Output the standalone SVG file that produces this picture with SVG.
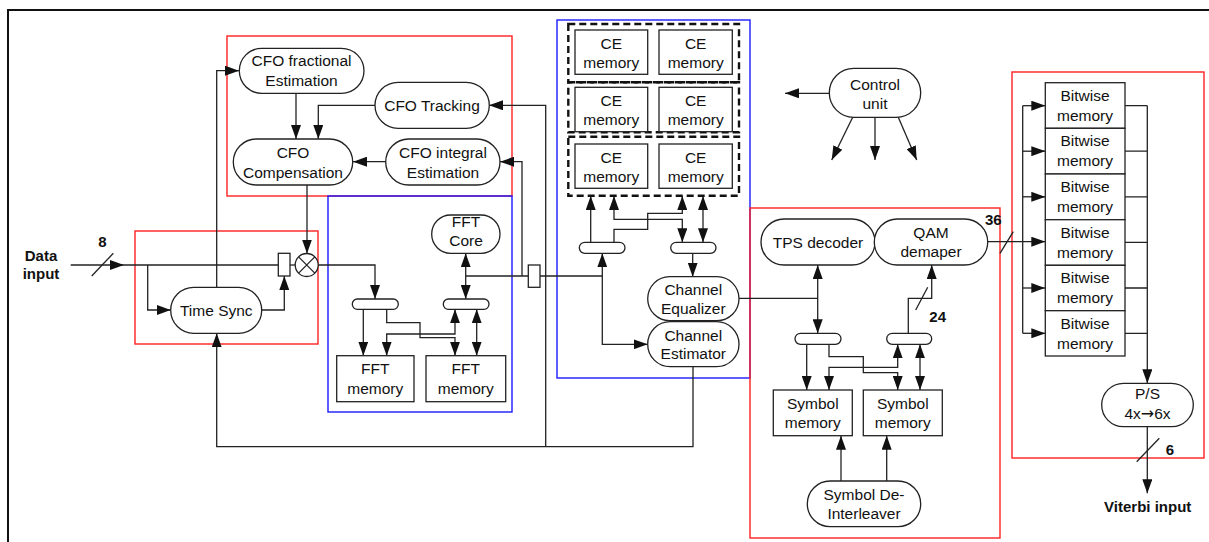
<svg xmlns="http://www.w3.org/2000/svg" width="1209" height="542" viewBox="0 0 1209 542">
  <style>
    .ln { fill: none; stroke: #222; stroke-width: 1.3; }
    .box { fill: #fff; stroke: #222; stroke-width: 1.3; }
    .red { fill: none; stroke: #ff2020; stroke-width: 1.4; }
    .blue { fill: none; stroke: #1a1aff; stroke-width: 1.4; }
    .dash { fill: none; stroke: #111; stroke-width: 2.4; stroke-dasharray: 7 4; }
    .t { font-family: "Liberation Sans", Arial, sans-serif; font-size: 15.5px; fill: #111; text-anchor: middle; }
    .b { font-family: "Liberation Sans", Arial, sans-serif; font-size: 15px; font-weight: bold; fill: #111; text-anchor: middle; }
    .sym { font-family: "DejaVu Sans", sans-serif; font-size: 16px; }
    .a { marker-end: url(#ah); }
    .aa { marker-start: url(#ah); marker-end: url(#ah); }
  </style>
  <defs>
    <marker id="ah" markerUnits="userSpaceOnUse" viewBox="0 0 14 10" markerWidth="14" markerHeight="10" refX="14" refY="5" orient="auto-start-reverse">
      <path d="M0,0 L14,5 L0,10 z" fill="#111"/>
    </marker>
  </defs>

  <rect width="1209" height="542" fill="#fff"/>
  <!-- outer frame -->
  <rect x="8" y="10" width="1215" height="545" fill="none" stroke="#111" stroke-width="2"/>

  <!-- block outlines -->
  <g id="regions">
    <rect class="red" x="227" y="36" width="285" height="160"/>
    <rect class="red" x="135" y="231" width="183" height="113"/>
    <rect class="blue" x="328" y="196" width="184" height="216"/>
    <rect class="blue" x="557" y="20" width="193" height="358"/>
    <rect class="red" x="750" y="208" width="250" height="330"/>
    <rect class="red" x="1012" y="72" width="192" height="386"/>
  </g>

  <!-- connectors -->
  <g id="connectors">
    <!-- data input -->
    <path class="ln a" d="M70.7,265 H124"/>
    <path class="ln" d="M124,265 H278.3"/>
    <path class="ln" d="M91.7,276 L113.3,253.3"/>
    <path class="ln a" d="M147.7,265 V310 H170.7"/>
    <path class="ln a" d="M262,310 H284.3 V276"/>
    <path class="ln" d="M290,265 H295.2"/>
    <path class="ln a" d="M307,185 V253.5"/>
    <path class="ln a" d="M318.2,265 H375 V299"/>
    <!-- time sync feedback -->
    <path class="ln a" d="M216.7,287 V70.7 H239"/>
    <path class="ln a" d="M693,366.7 V446.7 H216.7 V333.3"/>
    <path class="ln a" d="M545.7,446.7 V105.3 H489"/>
    <!-- CFO block -->
    <path class="ln a" d="M296,93.3 V139"/>
    <path class="ln a" d="M375,105.3 H318.3 V139"/>
    <path class="ln a" d="M386,161.7 H353"/>
    <path class="ln a" d="M522,276 V161.7 H500"/>
    <!-- FFT block -->
    <path class="ln" d="M465.7,276 H528.3"/>
    <path class="ln aa" d="M465.7,253.3 V299"/>
    <path class="ln a" d="M363.3,309.3 V355.7"/>
    <path class="ln a" d="M386.7,309.3 V322.7 H420 V337.7 H455 V355.7"/>
    <path class="ln aa" d="M455,309.3 V334 H386.7 V355.7"/>
    <path class="ln aa" d="M476.7,309.3 V355.7"/>
    <!-- channel estimation block -->
    <path class="ln a" d="M540,276 H602.3 V253.3"/>
    <path class="ln a" d="M602.3,276 V344.3 H647.7"/>
    <path class="ln a" d="M590.7,242.3 V196"/>
    <path class="ln a" d="M614,242.3 V229.3 H647.7 V213.3 H682.3 V196"/>
    <path class="ln aa" d="M614,196 V219.3 H682.3 V242.3"/>
    <path class="ln aa" d="M703,242.3 V196"/>
    <path class="ln a" d="M692.7,253.3 V276.7"/>
    <!-- demapping block -->
    <path class="ln" d="M739,298.3 H817.7"/>
    <path class="ln aa" d="M817.7,265 V333.3"/>
    <path class="ln a" d="M908.3,333.3 V298.3 H931.7 V265"/>
    <path class="ln" d="M915.7,310 L927.7,287.3"/>
    <path class="ln a" d="M806.7,344.3 V390"/>
    <path class="ln a" d="M829,344.3 V356.7 H863.3 V372.7 H897.7 V390"/>
    <path class="ln aa" d="M897.7,344.3 V367.3 H829 V390"/>
    <path class="ln aa" d="M920,344.3 V390"/>
    <path class="ln a" d="M841,481 V435.7"/>
    <path class="ln a" d="M886.7,481 V435.7"/>
    <!-- bitwise memories -->
    <path class="ln a" d="M987.7,241.7 H1045.3"/>
    <path class="ln" d="M1000,253.3 L1013.3,231.7"/>
    <path class="ln" d="M1022.7,105.7 V333.3"/>
    <path class="ln a" d="M1022.7,105.7 H1045.3"/>
    <path class="ln a" d="M1022.7,151.2 H1045.3"/>
    <path class="ln a" d="M1022.7,196.8 H1045.3"/>
    <path class="ln a" d="M1022.7,288 H1045.3"/>
    <path class="ln a" d="M1022.7,333.3 H1045.3"/>
    <path class="ln" d="M1125,105.7 H1147.3 M1125,151.2 H1147.3 M1125,196.8 H1147.3 M1125,242.3 H1147.3 M1125,288 H1147.3 M1125,333.3 H1147.3"/>
    <path class="ln a" d="M1147.3,105.7 V383.3"/>
    <path class="ln a" d="M1147.3,426.7 V493.3"/>
    <path class="ln" d="M1136.7,461.7 L1159.3,438.3"/>
    <!-- control unit -->
    <path class="ln a" d="M829,93.3 H785"/>
    <path class="ln a" d="M852.7,117.3 L831.7,160"/>
    <path class="ln a" d="M875,117.3 V160"/>
    <path class="ln a" d="M898.3,117.3 L916.7,160"/>
  </g>

  <!-- bus width labels -->
  <g id="labels">
    <text class="b" x="41" y="260.5">Data</text>
    <text class="b" x="41" y="278.5">input</text>
    <text class="b" x="102.3" y="247">8</text>
    <text class="b" x="937.7" y="321.5">24</text>
    <text class="b" x="993.3" y="224.8">36</text>
    <text class="b" x="1170" y="454.5">6</text>
    <text class="b" x="1147.7" y="511.5">Viterbi input</text>
  </g>

  <g id="sample-buffer">
    <rect class="box" x="278.3" y="253.3" width="11.7" height="22.7"/>
  </g>
  <g id="stage-buffer">
    <rect class="box" x="528.3" y="265" width="11.7" height="22.3"/>
  </g>
  <g id="mixer">
    <circle class="box" cx="306.7" cy="265" r="11.5"/>
    <path class="ln" d="M298.6,256.9 L314.8,273.1 M314.8,256.9 L298.6,273.1"/>
  </g>
  <g id="cfo-fractional">
    <rect class="box" x="239.3" y="48.3" width="124.7" height="45" rx="22.5"/>
    <text class="t" x="301.5" y="66.2">CFO fractional</text>
    <text class="t" x="301.5" y="86.2">Estimation</text>
  </g>
  <g id="cfo-tracking">
    <rect class="box" x="375" y="82.3" width="114.3" height="46" rx="23"/>
    <text class="t" x="432" y="110.8">CFO Tracking</text>
  </g>
  <g id="cfo-compensation">
    <rect class="box" x="233.3" y="139" width="119.4" height="46" rx="23"/>
    <text class="t" x="293" y="157.5">CFO</text>
    <text class="t" x="293" y="177.5">Compensation</text>
  </g>
  <g id="cfo-integral">
    <rect class="box" x="385.7" y="139" width="114.3" height="46" rx="23"/>
    <text class="t" x="443" y="157.5">CFO integral</text>
    <text class="t" x="443" y="177.5">Estimation</text>
  </g>
  <g id="time-sync">
    <rect class="box" x="170.7" y="287.3" width="91" height="46" rx="23"/>
    <text class="t" x="216.3" y="315.5">Time Sync</text>
  </g>
  <g id="fft-core">
    <rect class="box" x="431.7" y="215" width="68.3" height="38.3" rx="19"/>
    <text class="t" x="466" y="227">FFT</text>
    <text class="t" x="466" y="245.5">Core</text>
  </g>
  <g id="fft-mux-1"><rect class="box" x="352.3" y="299" width="46" height="10.3" rx="5"/></g>
  <g id="fft-mux-2"><rect class="box" x="443.3" y="299" width="45.7" height="10.3" rx="5"/></g>
  <g id="fft-memory-1">
    <rect class="box" x="336.7" y="355.7" width="77.3" height="46"/>
    <text class="t" x="375.3" y="374">FFT</text>
    <text class="t" x="375.3" y="394">memory</text>
  </g>
  <g id="fft-memory-2">
    <rect class="box" x="426" y="355.7" width="79.7" height="46"/>
    <text class="t" x="465.8" y="374">FFT</text>
    <text class="t" x="465.8" y="394">memory</text>
  </g>

  <g id="ce-bank-1">
    <rect class="dash" x="568.3" y="24" width="170.7" height="58.3"/>
    <rect class="box" x="575" y="30" width="72.7" height="44.3"/>
    <rect class="box" x="659" y="30" width="73.3" height="44.3"/>
    <text class="t" x="611.3" y="48.5">CE</text>
    <text class="t" x="611.3" y="67.5">memory</text>
    <text class="t" x="695.7" y="48.5">CE</text>
    <text class="t" x="695.7" y="67.5">memory</text>
  </g>
  <g id="ce-bank-2">
    <rect class="dash" x="568.3" y="82.3" width="170.7" height="50"/>
    <rect class="box" x="575" y="87.3" width="72.7" height="44.4"/>
    <rect class="box" x="659" y="87.3" width="73.3" height="44.4"/>
    <text class="t" x="611.3" y="105.8">CE</text>
    <text class="t" x="611.3" y="124.8">memory</text>
    <text class="t" x="695.7" y="105.8">CE</text>
    <text class="t" x="695.7" y="124.8">memory</text>
  </g>
  <g id="ce-bank-3">
    <rect class="dash" x="568.3" y="136.7" width="170.7" height="59"/>
    <rect class="box" x="575" y="144" width="72.7" height="44.3"/>
    <rect class="box" x="659" y="144" width="73.3" height="44.3"/>
    <text class="t" x="611.3" y="162.5">CE</text>
    <text class="t" x="611.3" y="181.5">memory</text>
    <text class="t" x="695.7" y="162.5">CE</text>
    <text class="t" x="695.7" y="181.5">memory</text>
  </g>
  <g id="ce-mux-1"><rect class="box" x="579.3" y="242.3" width="45.7" height="11" rx="5.5"/></g>
  <g id="ce-mux-2"><rect class="box" x="670.7" y="242.3" width="45.3" height="11" rx="5.5"/></g>
  <g id="channel-equalizer">
    <rect class="box" x="647.7" y="276.7" width="91.3" height="44" rx="22"/>
    <text class="t" x="693.3" y="294.8">Channel</text>
    <text class="t" x="693.3" y="313.8">Equalizer</text>
  </g>
  <g id="channel-estimator">
    <rect class="box" x="647.7" y="321.7" width="91.3" height="45" rx="22.5"/>
    <text class="t" x="693.3" y="340.5">Channel</text>
    <text class="t" x="693.3" y="358.8">Estimator</text>
  </g>

  <g id="control-unit">
    <rect class="box" x="829.3" y="68.3" width="91.4" height="49" rx="24.5"/>
    <text class="t" x="875" y="89.5">Control</text>
    <text class="t" x="875" y="108.8">unit</text>
  </g>

  <g id="tps-decoder">
    <rect class="box" x="761" y="219" width="114" height="46" rx="23"/>
    <text class="t" x="818" y="247.5">TPS decoder</text>
  </g>
  <g id="qam-demapper">
    <rect class="box" x="874.3" y="219" width="113.4" height="46" rx="23"/>
    <text class="t" x="931" y="237.8">QAM</text>
    <text class="t" x="931" y="257.2">demaper</text>
  </g>
  <g id="sym-mux-1"><rect class="box" x="795" y="333.3" width="46" height="11" rx="5.5"/></g>
  <g id="sym-mux-2"><rect class="box" x="886.7" y="333.3" width="45" height="11" rx="5.5"/></g>
  <g id="symbol-memory-1">
    <rect class="box" x="773.3" y="390" width="79" height="45.7"/>
    <text class="t" x="812.8" y="408.8">Symbol</text>
    <text class="t" x="812.8" y="428.2">memory</text>
  </g>
  <g id="symbol-memory-2">
    <rect class="box" x="863.3" y="390" width="79" height="45.7"/>
    <text class="t" x="902.8" y="408.8">Symbol</text>
    <text class="t" x="902.8" y="428.2">memory</text>
  </g>
  <g id="symbol-deinterleaver">
    <rect class="box" x="807.3" y="481" width="113.4" height="45.7" rx="22.8"/>
    <text class="t" x="864" y="499.5">Symbol De-</text>
    <text class="t" x="864" y="518.8">Interleaver</text>
  </g>

  <g id="bitwise-memory-1">
    <rect class="box" x="1045.3" y="82.7" width="79.7" height="45.6"/>
    <text class="t" x="1085" y="100.5">Bitwise</text>
    <text class="t" x="1085" y="120.5">memory</text>
  </g>
  <g id="bitwise-memory-2">
    <rect class="box" x="1045.3" y="128.3" width="79.7" height="45.7"/>
    <text class="t" x="1085" y="146.1">Bitwise</text>
    <text class="t" x="1085" y="166.1">memory</text>
  </g>
  <g id="bitwise-memory-3">
    <rect class="box" x="1045.3" y="174" width="79.7" height="45.7"/>
    <text class="t" x="1085" y="191.8">Bitwise</text>
    <text class="t" x="1085" y="211.8">memory</text>
  </g>
  <g id="bitwise-memory-4">
    <rect class="box" x="1045.3" y="219.7" width="79.7" height="45.6"/>
    <text class="t" x="1085" y="237.5">Bitwise</text>
    <text class="t" x="1085" y="257.5">memory</text>
  </g>
  <g id="bitwise-memory-5">
    <rect class="box" x="1045.3" y="265.3" width="79.7" height="45.4"/>
    <text class="t" x="1085" y="283.1">Bitwise</text>
    <text class="t" x="1085" y="303.1">memory</text>
  </g>
  <g id="bitwise-memory-6">
    <rect class="box" x="1045.3" y="310.7" width="79.7" height="45.3"/>
    <text class="t" x="1085" y="328.5">Bitwise</text>
    <text class="t" x="1085" y="348.5">memory</text>
  </g>
  <g id="parallel-to-serial">
    <rect class="box" x="1101.7" y="383.3" width="91.6" height="43.4" rx="21.7"/>
    <text class="t" x="1147.5" y="398.8">P/S</text>
    <text class="t" x="1147.5" y="418.8">4x<tspan class="sym">→</tspan>6x</text>
  </g>
</svg>
